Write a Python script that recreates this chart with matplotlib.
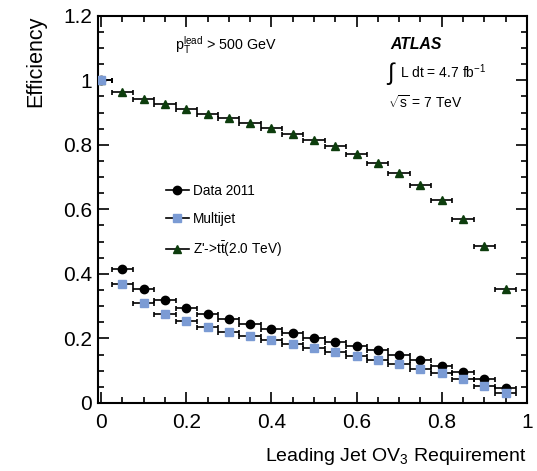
import matplotlib.pyplot as plt
from matplotlib.lines import Line2D
from matplotlib.ticker import MultipleLocator

plt.rcParams['font.family'] = ['Liberation Sans', 'DejaVu Sans']
plt.rcParams['mathtext.fontset'] = 'custom'
plt.rcParams['mathtext.rm'] = 'Liberation Sans'
plt.rcParams['mathtext.it'] = 'Liberation Sans:italic'

# 数据：OV3 截断值，各样本效率
ov3_cut = [0.0, 0.05, 0.10, 0.15, 0.20, 0.25, 0.30, 0.35, 0.40, 0.45,
           0.50, 0.55, 0.60, 0.65, 0.70, 0.75, 0.80, 0.85, 0.90, 0.95]
bin_half = 0.025

eff_data = [1.0, 0.415, 0.353, 0.318, 0.295, 0.275, 0.260, 0.245, 0.229, 0.216,
            0.202, 0.190, 0.177, 0.163, 0.149, 0.132, 0.116, 0.095, 0.073, 0.046]
eff_multijet = [1.0, 0.369, 0.309, 0.277, 0.254, 0.236, 0.221, 0.207, 0.195, 0.183,
                0.171, 0.159, 0.146, 0.133, 0.121, 0.106, 0.092, 0.075, 0.054, 0.032]
eff_zprime = [1.0, 0.963, 0.943, 0.926, 0.912, 0.897, 0.883, 0.868, 0.852, 0.835,
              0.816, 0.795, 0.772, 0.744, 0.712, 0.675, 0.629, 0.571, 0.487, 0.353]

labels = ["Data 2011", "Multijet", r"Z'->t$\bar{\rm t}$(2.0 TeV)"]
blue = '#7b9bd4'
green = '#0d3d0d'

fig = plt.figure(figsize=(5.37, 4.71), dpi=100)
ax = fig.add_axes([0.182, 0.1444, 0.799, 0.8222])

# 画图：水平误差棒 + 标记
ax.errorbar(ov3_cut, eff_zprime, xerr=bin_half, fmt='^', color='k', ecolor='k',
            markerfacecolor=green, markeredgecolor=green, markersize=6,
            elinewidth=1.2, capsize=1.8, capthick=1.2, zorder=3)
ax.errorbar(ov3_cut, eff_data, xerr=bin_half, fmt='o', color='k', ecolor='k',
            markersize=6, elinewidth=1.2, capsize=1.8, capthick=1.2, zorder=3)
ax.errorbar(ov3_cut, eff_multijet, xerr=bin_half, fmt='s', color='k', ecolor='k',
            markerfacecolor=blue, markeredgecolor=blue, markersize=6,
            elinewidth=1.2, capsize=1.8, capthick=1.2, zorder=4)

ax.set_xlim(-0.008, 1.0)
ax.set_ylim(0, 1.2)

# 刻度：ROOT 风格，朝内，四边都有
ax.xaxis.set_major_locator(MultipleLocator(0.2))
ax.xaxis.set_minor_locator(MultipleLocator(0.05))
ax.yaxis.set_major_locator(MultipleLocator(0.2))
ax.yaxis.set_minor_locator(MultipleLocator(0.05))
ax.set_xticks([0, 0.2, 0.4, 0.6, 0.8, 1.0])
ax.set_xticklabels(['0', '0.2', '0.4', '0.6', '0.8', '1'])
ax.set_yticks([0, 0.2, 0.4, 0.6, 0.8, 1.0, 1.2])
ax.set_yticklabels(['0', '0.2', '0.4', '0.6', '0.8', '1', '1.2'])
ax.tick_params(axis='both', which='both', direction='in', top=True, right=True,
               labelsize=15, width=1.2)
ax.tick_params(axis='x', which='major', length=8, pad=7)
ax.tick_params(axis='y', which='major', length=8, pad=4)
ax.tick_params(axis='both', which='minor', length=4)
for s in ax.spines.values():
    s.set_linewidth(1.5)

# 坐标轴标题
ax.set_ylabel('Efficiency', fontsize=15.5, loc='top', labelpad=12)
ax.set_xlabel(r'Leading Jet OV$_3$ Requirement', fontsize=14, loc='right', labelpad=10)

# 图例
handles = [
    Line2D([], [], color='k', lw=1.2, marker='o', markersize=6),
    Line2D([], [], color='k', lw=1.2, marker='s', markersize=6,
           markerfacecolor=blue, markeredgecolor=blue),
    Line2D([], [], color='k', lw=1.2, marker='^', markersize=6,
           markerfacecolor=green, markeredgecolor=green),
]
ax.legend(handles, labels, loc='upper left', bbox_to_anchor=(0.158, 0.565),
          frameon=False, fontsize=9.8, handlelength=1.7, handletextpad=0.3,
          labelspacing=1.0, borderpad=0, borderaxespad=0)

# 文字标注
ax.text(0.18, 0.925, r'p$_{\rm T}^{\rm lead}$ > 500 GeV', transform=ax.transAxes,
        fontsize=10.3, va='center', ha='left')
ax.text(0.683, 0.925, 'ATLAS', transform=ax.transAxes, fontsize=11.3,
        fontweight='bold', fontstyle='italic', va='center', ha='left')
ax.text(0.673, 0.852, r'$\int$', transform=ax.transAxes,
        fontsize=17, va='center', ha='left')
ax.text(0.705, 0.855, r'L dt = 4.7 fb$^{-1}$', transform=ax.transAxes,
        fontsize=10, va='center', ha='left')
ax.text(0.676, 0.775, r'$\sqrt{\rm s}$ = 7 TeV', transform=ax.transAxes,
        fontsize=10, va='center', ha='left')

fig.savefig('out.png', dpi=100)
